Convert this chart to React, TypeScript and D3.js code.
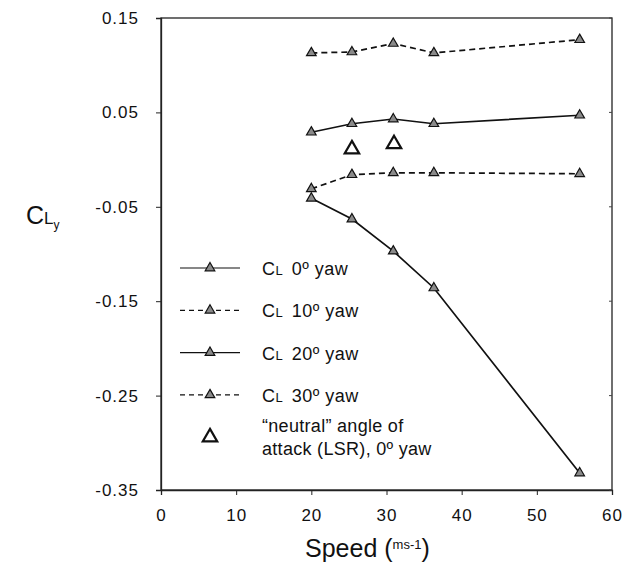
import React, { useEffect, useRef } from 'react';
import * as d3 from 'd3';

// speed (m/s) for every series
const speeds = [20, 25.4, 30.9, 36.3, 55.7];
const cl0 = [-0.041, -0.063, -0.097, -0.136, -0.332];
const cl10 = [-0.031, -0.016, -0.014, -0.014, -0.015];
const cl20 = [0.029, 0.038, 0.043, 0.038, 0.047];
const cl30 = [0.113, 0.114, 0.123, 0.113, 0.127];
const neutralSpeeds = [25.4, 31];
const neutralCl = [0.011, 0.0165];
const xTicks = [0, 10, 20, 30, 40, 50, 60];
const yTicks = [0.15, 0.05, -0.05, -0.15, -0.25, -0.35];
const legendLabels = ['0º yaw', '10º yaw', '20º yaw', '30º yaw'];

const FONT = 'Liberation Sans, Arial, sans-serif';

function App() {
    const ref = useRef<SVGSVGElement>(null);

    useEffect(() => {
        const width = 625;
        const height = 569;
        const margin = { top: 18, right: 13, bottom: 79, left: 161 };

        const svg = d3.select(ref.current);
        svg.selectAll('*').remove();

        const x = d3.scaleLinear().domain([0, 60]).range([margin.left, width - margin.right]);
        const y = d3.scaleLinear().domain([-0.35, 0.15]).range([height - margin.bottom, margin.top]);

        const g = svg.append('g').attr('font-family', FONT);

        // frame
        g.append('rect')
            .attr('x', x(0)).attr('y', y(0.15))
            .attr('width', x(60) - x(0)).attr('height', y(-0.35) - y(0.15))
            .attr('fill', 'none').attr('stroke', '#222').attr('stroke-width', 1.3);

        // axes (plain hyphen for negatives, like the original)
        const yAxis = g.append('g')
            .attr('transform', `translate(${x(0)},0)`)
            .call(d3.axisLeft(y).tickValues(yTicks).tickSize(5).tickPadding(17)
                .tickFormat(d => (+d).toFixed(2)));
        const xAxis = g.append('g')
            .attr('transform', `translate(0,${y(-0.35)})`)
            .call(d3.axisBottom(x).tickValues(xTicks).tickSize(5).tickPadding(14));
        [xAxis, yAxis].forEach(a => {
            a.select('.domain').attr('stroke', '#222').attr('stroke-width', 1.3);
            a.selectAll('.tick line').attr('stroke', '#222');
            a.selectAll('.tick text')
                .attr('font-size', 17).attr('font-family', FONT).attr('fill', '#111')
                .attr('letter-spacing', 1);
        });

        // small ticks on right border
        g.selectAll('.rtick').data(yTicks).enter().append('line')
            .attr('x1', x(60)).attr('x2', x(60) - 3)
            .attr('y1', d => y(d)).attr('y2', d => y(d))
            .attr('stroke', '#444');

        const line = d3.line<number>()
            .x((d, i) => x(speeds[i]))
            .y(d => y(d));

        const tri = d3.symbol().type(d3.symbolTriangle).size(40);
        const series = [
            { vals: cl0, dash: null },
            { vals: cl10, dash: '6,4' },
            { vals: cl20, dash: null },
            { vals: cl30, dash: '6,4' },
        ];

        series.forEach(s => {
            g.append('path')
                .attr('d', line(s.vals))
                .attr('fill', 'none')
                .attr('stroke', '#111')
                .attr('stroke-width', 1.7)
                .attr('stroke-dasharray', s.dash);
            g.selectAll(null).data(s.vals).enter().append('path')
                .attr('d', tri)
                .attr('transform', (d, i) => `translate(${x(speeds[i])},${y(d)})`)
                .attr('fill', '#8a8a8a')
                .attr('stroke', '#111')
                .attr('stroke-width', 1.2);
        });

        // neutral angle of attack points
        const bigTri = d3.symbol().type(d3.symbolTriangle).size(90);
        g.selectAll(null).data(neutralCl).enter().append('path')
            .attr('d', bigTri)
            .attr('transform', (d, i) => `translate(${x(neutralSpeeds[i])},${y(d)})`)
            .attr('fill', 'white')
            .attr('stroke', '#111')
            .attr('stroke-width', 2.2);

        // legend
        const legend = g.append('g').attr('transform', 'translate(180,268)');
        const rows = legend.selectAll('g').data(series).enter().append('g')
            .attr('transform', (d, i) => `translate(0,${i * 42.3})`);
        rows.append('line')
            .attr('x1', 0).attr('x2', 60)
            .attr('stroke', '#111').attr('stroke-width', 1.2)
            .attr('stroke-dasharray', d => (d.dash ? '5,4' : null));
        rows.append('path')
            .attr('d', tri)
            .attr('transform', 'translate(30,0)')
            .attr('fill', '#8a8a8a').attr('stroke', '#111').attr('stroke-width', 1.2);
        const lt = rows.append('text')
            .attr('x', 82).attr('y', 7)
            .attr('font-size', 18).attr('fill', '#111')
            .attr('letter-spacing', 0.5);
        lt.append('tspan').text('C');
        lt.append('tspan').attr('font-size', 13).text('L');
        lt.append('tspan').attr('dx', 3).text((d, i) => '\u00a0' + legendLabels[i]);

        const nrow = legend.append('g').attr('transform', `translate(0,${4 * 42.3})`);
        nrow.append('path')
            .attr('d', bigTri)
            .attr('transform', 'translate(30,0)')
            .attr('fill', 'white').attr('stroke', '#111').attr('stroke-width', 2.2);
        nrow.append('text').attr('x', 82).attr('y', -5).attr('font-size', 18).attr('fill', '#111')
            .attr('letter-spacing', 0.3)
            .text('“neutral” angle of');
        nrow.append('text').attr('x', 82).attr('y', 18).attr('font-size', 18).attr('fill', '#111')
            .attr('letter-spacing', 0.3)
            .text('attack (LSR), 0º yaw');

        // y axis label
        const yl = g.append('text').attr('x', 26).attr('y', 224).attr('fill', '#111');
        yl.append('tspan').attr('font-size', 25).text('C');
        yl.append('tspan').attr('font-size', 17).text('L');
        yl.append('tspan').attr('font-size', 12).attr('dy', 5).text('y');

        // x axis label
        const xl = g.append('text').attr('x', 305).attr('y', 557).attr('fill', '#111');
        xl.append('tspan').attr('font-size', 25).text('Speed (');
        xl.append('tspan').attr('font-size', 13).attr('dy', -8).text('ms-1');
        xl.append('tspan').attr('font-size', 25).attr('dy', 8).text(')');
    }, []);

    return (
        <div style={{ position: 'absolute', left: 0, top: 0 }}>
            <svg ref={ref} width={625} height={569} style={{ display: 'block', background: 'white' }} />
        </div>
    );
}

export default App;
